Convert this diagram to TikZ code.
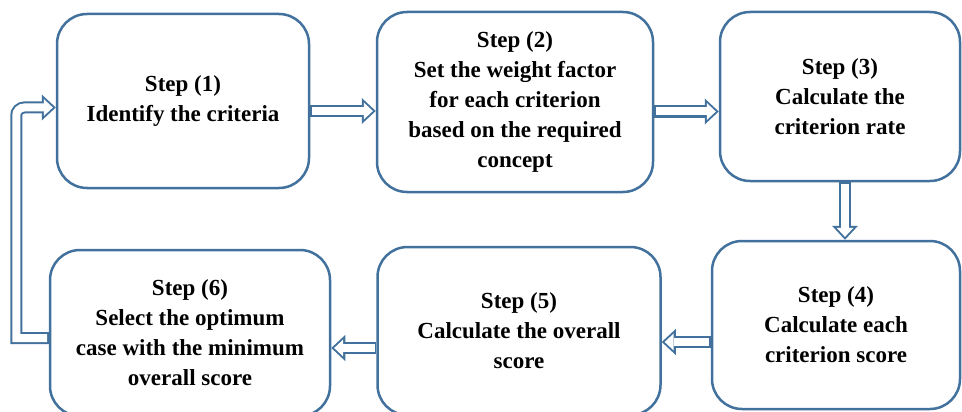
\documentclass[tikz,border=0pt]{standalone}
\usepackage{fontspec}
\setmainfont{Liberation Serif}
\usetikzlibrary{arrows.meta}
\definecolor{boxblue}{HTML}{41719C}
\tikzset{
  stepbox/.style={draw=boxblue, line width=2.5pt, rounded corners=30pt, align=center,
    inner sep=0pt, font=\fontsize{23}{30}\selectfont\bfseries},
  arrowout/.style={draw=boxblue, line width=12pt,
    -{Triangle[width=26pt,length=14pt,line width=0pt]}},
  arrowin/.style={draw=white, line width=8pt, shorten >=2.9pt, shorten <=1.6pt,
    -{Triangle[width=16.8pt,length=9pt,line width=0pt]}}
}
\newcommand{\hollowarrow}[1]{\draw[arrowout] #1; \draw[arrowin] #1;}
\begin{document}
\begin{tikzpicture}[x=1pt,y=-1pt]
\useasboundingbox (0,0) rectangle (962,412);
\clip (0,0) rectangle (962,412);
% top row
\node[stepbox, minimum width=252pt, minimum height=174pt] at (183,101) (s1) {Step (1)\\Identify the criteria};
\node[stepbox, minimum width=276pt, minimum height=180pt] at (515,102) (s2) {Step (2)\\Set the weight factor\\for each criterion\\based on the required\\concept};
\node[stepbox, minimum width=240pt, minimum height=169pt] at (840,96.5) (s3) {Step (3)\\Calculate the\\criterion rate};
% bottom row
\node[stepbox, minimum width=248pt, minimum height=168pt] at (836,325) (s4) {Step (4)\\Calculate each\\criterion score};
\node[stepbox, minimum width=283pt, minimum height=168pt] at (519,331) (s5) {Step (5)\\Calculate the overall\\score};
\node[stepbox, minimum width=280pt, minimum height=166pt] at (190,333) (s6) {Step (6)\\Select the optimum\\case with the minimum\\overall score};
% block arrows
\hollowarrow{([yshift=-10pt]s1.east) -- ([yshift=-10pt]s1.east -| s2.west)}
\hollowarrow{([yshift=-9.5pt]s2.east) -- ([yshift=-9.5pt]s2.east -| s3.west)}
\hollowarrow{([xshift=5pt]s3.south) -- ([xshift=5pt]s3.south |- s4.north)}
\hollowarrow{([yshift=-17pt]s4.west) -- ([yshift=-17pt]s4.west -| s5.east)}
\hollowarrow{([yshift=-17pt]s5.west) -- ([yshift=-17pt]s5.west -| s6.east)}
\hollowarrow{([yshift=-5pt]s6.west) -- ++(-32.5,0) [rounded corners=8pt] |- ([yshift=-6.5pt]s1.west)}
\end{tikzpicture}
\end{document}
